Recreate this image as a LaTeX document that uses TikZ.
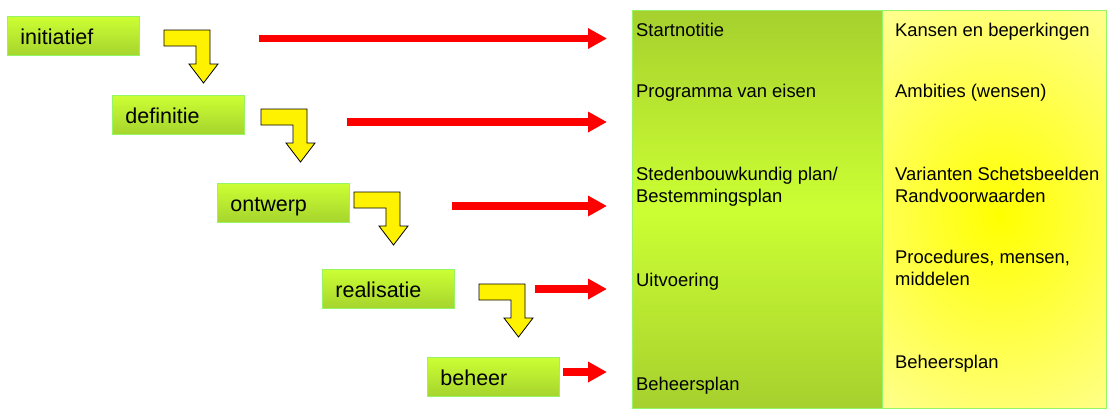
\documentclass[tikz,border=0pt]{standalone}
\usepackage{fontspec}
\setmainfont{Liberation Sans}
\usepackage{tikz}
\usetikzlibrary{arrows.meta}
\usetikzlibrary{positioning}

\definecolor{limetop}{RGB}{204,255,51}
\definecolor{limebot}{RGB}{166,212,46}
\definecolor{limeline}{RGB}{150,245,100}
\definecolor{coldark}{RGB}{166,208,46}
\definecolor{paleyellow}{RGB}{255,255,153}

\begin{document}
\begin{tikzpicture}[x=1pt,y=-1pt,
    phase/.style={draw=limeline,line width=0.8pt,top color=limetop,bottom color=limebot,anchor=north west,
      minimum width=132pt,minimum height=39pt,text width=106pt,inner xsep=13pt,inner ysep=0pt,align=left,
      text height=17.6pt,text depth=0pt,font=\fontsize{21.5}{24}\selectfont},
    item/.style={anchor=base west,inner sep=0pt,align=left,font=\fontsize{18.4}{21.6}\selectfont},
    flow/.style={draw=red,line width=7.3pt,-{Triangle[length=19pt,width=19.5pt]},shorten >=25pt},
    turn/.pic={\draw[fill=yellow,line width=0.8pt] (0,0) -- (46,0) -- (46,34) -- (54,34) -- (39.5,53)
      -- (25,34) -- (32,34) -- (32,16) -- (0,16) -- cycle;}]
  \useasboundingbox (0,0) rectangle (1107,408);
  % columns
  \node (plans) [draw=limeline,line width=1pt,top color=coldark,bottom color=coldark,middle color=limetop,
    anchor=north west,minimum width=250pt,minimum height=398pt,inner sep=0pt] at (632,10) {};
  \node (aims) [fill=paleyellow,anchor=north west,minimum width=224pt,minimum height=398pt,inner sep=0pt] at (882,10) {};
  \begin{scope}
    \clip (aims.north west) rectangle (aims.south east);
    \shade[inner color=yellow,outer color=paleyellow] (1000,215) circle[x radius=220pt,y radius=260pt];
  \end{scope}
  \draw[limeline,line width=1pt] (aims.north west) rectangle (aims.south east);
  % phases
  \node[phase] (init) at (7,16) {initiatief};
  \node[phase] (defi) at (112,95) {definitie};
  \node[phase] (ontw) at (217,183) {ontwerp};
  \node[phase] (real) at (322,269) {realisatie};
  \node[phase] (beh) at (427,357) {beheer};
  \pic at (164,30) {turn};
  \pic at (261,109) {turn};
  \pic at (354,192) {turn};
  \pic at (479,284) {turn};
  % products
  \node[item] (n1) at (636,36.7) {Startnotitie};
  \node[item] (n2) at (636,97.7) {Programma van eisen};
  \node[item] (n3) at (636,202.3) {Stedenbouwkundig plan/\\Bestemmingsplan};
  \node[item] (n4) at (636,286) {Uitvoering};
  \node[item] (n5) at (636,390) {Beheersplan};
  \node[item] (a1) at (895,36.7) {Kansen en beperkingen};
  \node[item] (a2) at (895,97.7) {Ambities (wensen)};
  \node[item] (a3) at (895,202.3) {Varianten Schetsbeelden\\Randvoorwaarden};
  \node[item] (a4) at (895,285.3) {Procedures, mensen,\\middelen};
  \node[item] (a5) at (895,368.3) {Beheersplan};
  % red arrows
  \coordinate (s1) at (259,38.5);
  \coordinate (s2) at (347,122);
  \coordinate (s3) at (452,206);
  \coordinate (s4) at (535,289);
  \coordinate (s5) at (563,372);
  \draw[flow] (s1) -- (s1 -| plans.west);
  \draw[flow] (s2) -- (s2 -| plans.west);
  \draw[flow] (s3) -- (s3 -| plans.west);
  \draw[flow] (s4) -- (s4 -| plans.west);
  \draw[flow] (s5) -- (s5 -| plans.west);
\end{tikzpicture}
\end{document}
